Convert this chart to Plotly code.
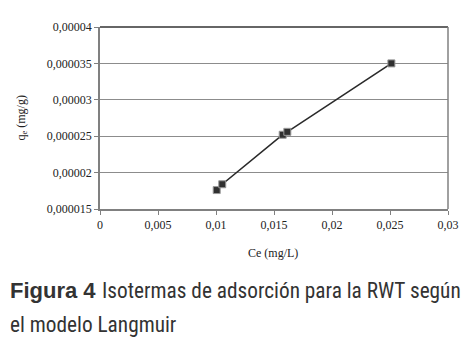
import plotly.graph_objects as go

ce = [0.01006, 0.01054, 0.01575, 0.01615, 0.02512]
qe = [0.0000176, 0.0000184, 0.0000252, 0.0000256, 0.0000350]

x_ticks = [0, 0.005, 0.01, 0.015, 0.02, 0.025, 0.03]
x_tick_labels = ["0", "0,005", "0,01", "0,015", "0,02", "0,025", "0,03"]
y_ticks = [0.000015, 0.00002, 0.000025, 0.00003, 0.000035, 0.00004]
y_tick_labels = ["0,000015", "0,00002", "0,000025", "0,00003", "0,000035", "0,00004"]

W, H = 476, 342
OFF = 8  # page body margin
L, R, T, B = 100 - OFF, 28 + OFF, 24 - OFF, 133 + OFF
pw = W - L - R
ph = H - T - B

def px(pix):
    return (pix - OFF - L) / pw

def py(pix):
    return (H - B - (pix - OFF)) / ph

serif = "Liberation Serif, Times New Roman, serif"
sans = "Liberation Sans, Arial, sans-serif"
narrow = "Liberation Sans Narrow, Roboto Condensed, Liberation Sans, Arial, sans-serif"

fig = go.Figure()
fig.add_trace(go.Scatter(
    x=ce, y=qe, mode="lines+markers",
    line=dict(color="#2a2a2a", width=1.6),
    marker=dict(symbol="square", size=7, color="#303030",
                line=dict(color="#9a9a9a", width=1)),
    showlegend=False, hoverinfo="skip"))

fig.update_layout(
    width=W, height=H,
    margin=dict(l=L, r=R, t=T, b=B),
    paper_bgcolor="white", plot_bgcolor="white",
    font=dict(family=serif, size=12, color="#222"),
    xaxis=dict(range=[0, 0.03], tickvals=x_ticks, ticktext=x_tick_labels,
               showgrid=False, zeroline=False, showline=True,
               linecolor="#808080", linewidth=1.5, ticks="outside",
               ticklen=4, tickcolor="#808080", tickfont=dict(family=serif, size=12, color="#222"),
               mirror=False),
    yaxis=dict(range=[0.000015, 0.00004], tickvals=y_ticks, ticktext=y_tick_labels,
               showgrid=True, gridcolor="#8c8c8c", gridwidth=1.2, zeroline=False,
               showline=True, linecolor="#808080", linewidth=1.5, ticks="outside",
               ticklen=4, tickcolor="#808080", tickfont=dict(family=serif, size=12, color="#222")),
)

# top border (dark) and right border (gray)
fig.add_shape(type="line", xref="paper", yref="paper", x0=0, x1=1, y0=1, y1=1,
              line=dict(color="#333333", width=1.5))
fig.add_shape(type="line", xref="paper", yref="paper", x0=1, x1=1, y0=0, y1=1,
              line=dict(color="#808080", width=1.5))

fig.add_annotation(text="Ce (mg/L)", xref="paper", yref="paper",
                   x=px(273), y=py(254), showarrow=False,
                   font=dict(family=serif, size=12, color="#222"),
                   xanchor="center", yanchor="middle")
fig.add_annotation(text="q<sub>e</sub> (mg/g)", xref="paper", yref="paper",
                   x=px(22), y=py(117), showarrow=False, textangle=-90,
                   font=dict(family=serif, size=12, color="#222"),
                   xanchor="center", yanchor="middle")
fig.add_annotation(text="<b>Figura 4</b>",
                   xref="paper", yref="paper",
                   x=px(8), y=py(292), showarrow=False,
                   font=dict(family=sans, size=22, color="#333"),
                   xanchor="left", yanchor="middle")
fig.add_annotation(text="Isotermas de adsorción para la RWT según",
                   xref="paper", yref="paper",
                   x=px(100), y=py(292), showarrow=False,
                   font=dict(family=narrow, size=21.3, color="#333"),
                   xanchor="left", yanchor="middle")
fig.add_annotation(text="el modelo Langmuir",
                   xref="paper", yref="paper",
                   x=px(8), y=py(326), showarrow=False,
                   font=dict(family=narrow, size=21.3, color="#333"),
                   xanchor="left", yanchor="middle")

fig.write_html("out.html")
